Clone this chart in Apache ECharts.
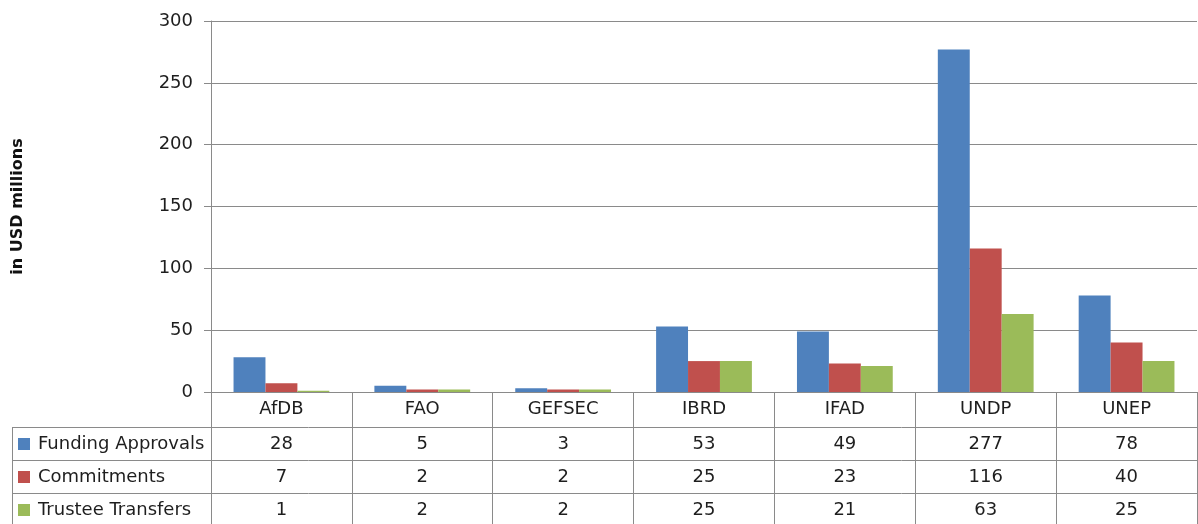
<!DOCTYPE html>
<html>
<head>
<meta charset="utf-8">
<script src="https://cdn.jsdelivr.net/npm/echarts@6/dist/echarts.min.js"></script>
<style>
  html, body { margin: 0; padding: 0; background: #fff; }
  #chart { width: 1198px; height: 524px; }
</style>
</head>
<body>
<div id="chart"></div>
<script>
// categories and values (in USD millions)
var categories = ["AfDB", "FAO", "GEFSEC", "IBRD", "IFAD", "UNDP", "UNEP"];
var fundingApprovals = [28, 5, 3, 53, 49, 277, 78];
var commitments = [7, 2, 2, 25, 23, 116, 40];
var trusteeTransfers = [1, 2, 2, 25, 21, 63, 25];
var seriesNames = ["Funding Approvals", "Commitments", "Trustee Transfers"];
var yTicks = [0, 50, 100, 150, 200, 250, 300];

var colors = ["#4F81BD", "#C0504D", "#9BBB59"];
var lineColor = "#8a8a8a";
var textColor = "#1e1e1e";
var font = "DejaVu Sans";
var fontSize = 18;

// layout of grid and data table
var gridLeft = 211, gridTop = 21, gridRight = 1, gridBottom = 132;
var W = 1198, H = 524;
var axisY = H - gridBottom; // 392
var rowH = 33;
var headerH = 35;

var chart = echarts.init(document.getElementById("chart"));

function rowAxis(values, idx) {
  return {
    type: "category",
    gridIndex: 0,
    position: "bottom",
    offset: headerH + rowH * idx,
    data: values.map(String),
    axisLine: { show: false },
    axisTick: { show: false },
    axisLabel: { margin: 8, fontSize: fontSize, color: textColor, fontFamily: font, interval: 0 }
  };
}

function rowLegend(name, idx) {
  return {
    data: [name],
    left: 18,
    top: axisY + headerH + rowH * idx + 7,
    orient: "vertical",
    padding: 0,
    icon: "rect",
    itemWidth: 12,
    itemHeight: 12,
    selectedMode: false,
    textStyle: { fontSize: fontSize, lineHeight: 20, color: textColor, fontFamily: font, padding: [0, 0, 0, 3] }
  };
}

var tableLines = [];
for (var r = 0; r < 3; r++) {
  var y = axisY + headerH + rowH * r + 0.5;
  tableLines.push({
    type: "line",
    shape: { x1: 12, y1: y, x2: W, y2: y },
    style: { stroke: lineColor, lineWidth: 1 }
  });
}
tableLines.push({
  type: "line",
  shape: { x1: 12.5, y1: axisY + headerH, x2: 12.5, y2: H },
  style: { stroke: lineColor, lineWidth: 1 }
});

var option = {
  animation: false,
  color: colors,
  textStyle: { fontFamily: font },
  legend: [
    rowLegend(seriesNames[0], 0),
    rowLegend(seriesNames[1], 1),
    rowLegend(seriesNames[2], 2)
  ],
  grid: { left: gridLeft, top: gridTop, right: gridRight, bottom: gridBottom, containLabel: false },
  xAxis: [
    {
      type: "category",
      data: categories,
      axisLine: { show: true, lineStyle: { color: lineColor, width: 1 } },
      axisTick: { show: true, length: gridBottom, lineStyle: { color: lineColor, width: 1 } },
      axisLabel: { margin: 8, fontSize: fontSize, color: textColor, fontFamily: font, interval: 0 }
    },
    rowAxis(fundingApprovals, 0),
    rowAxis(commitments, 1),
    rowAxis(trusteeTransfers, 2)
  ],
  yAxis: {
    type: "value",
    min: yTicks[0],
    max: yTicks[yTicks.length - 1],
    interval: 50,
    name: "in USD millions",
    nameLocation: "middle",
    nameGap: 185,
    nameTextStyle: { fontSize: 16, fontWeight: "bold", color: "#111", fontFamily: font },
    axisLine: { show: true, lineStyle: { color: lineColor, width: 1 } },
    axisTick: { show: true, length: 7, lineStyle: { color: lineColor, width: 1 } },
    axisLabel: { margin: 18, fontSize: fontSize, color: textColor, fontFamily: font },
    splitLine: { show: true, lineStyle: { color: lineColor, width: 1 } }
  },
  series: [
    { name: seriesNames[0], type: "bar", data: fundingApprovals, barGap: "0%", barCategoryGap: "32%" },
    { name: seriesNames[1], type: "bar", data: commitments, barGap: "0%", barCategoryGap: "32%" },
    { name: seriesNames[2], type: "bar", data: trusteeTransfers, barGap: "0%", barCategoryGap: "32%" }
  ],
  graphic: tableLines
};

chart.setOption(option);
</script>
</body>
</html>
